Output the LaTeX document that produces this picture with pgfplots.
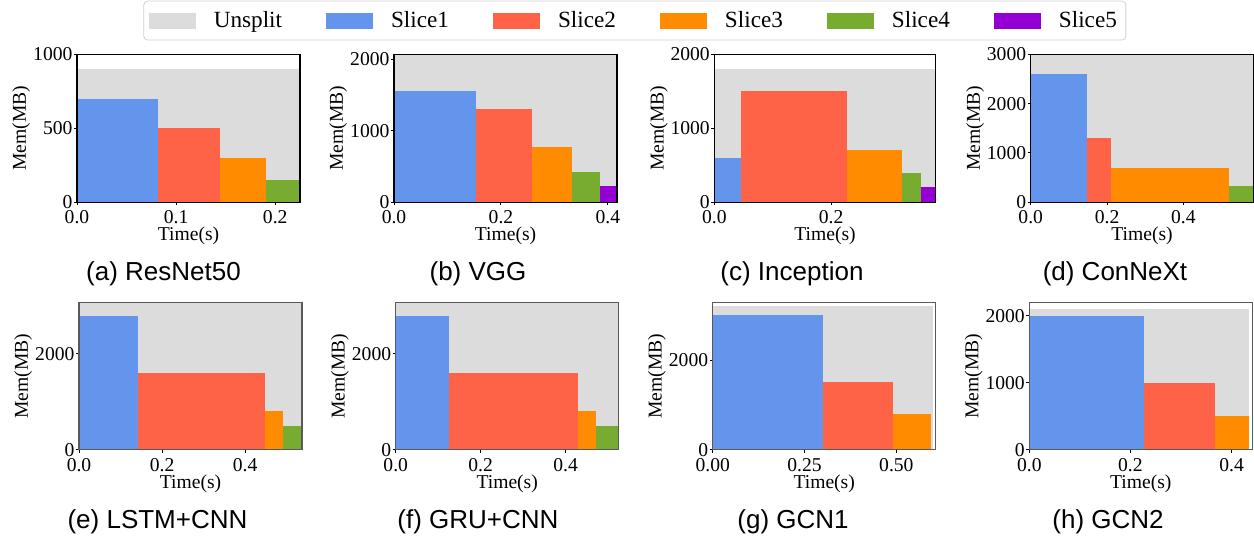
\documentclass[border=0pt]{standalone}
\usepackage{fontspec}
\setmainfont{Liberation Serif}
\newfontfamily\capfont{Liberation Sans}
\usepackage{pgfplots}
\pgfplotsset{compat=1.18}
\definecolor{cgrey}{HTML}{DCDCDC}
\definecolor{cblue}{HTML}{6495ED}
\definecolor{cred}{HTML}{FF6347}
\definecolor{corange}{HTML}{FF8C00}
\definecolor{cgreen}{HTML}{77AC30}
\definecolor{cpurple}{HTML}{9400D3}
\pgfplotsset{
  panel/.style={
    scale only axis, width=111.5bp, height=74bp, anchor=south west,
    xmin=0, ymin=0, axis on top,
    tick align=outside, tick pos=left, major tick length=1.5bp,
    tick style={black, line width=0.5bp},
    ticklabel style={font=\fontsize{9.8bp}{11bp}\selectfont},
    yticklabel style={inner xsep=0.6bp},
    xticklabel style={inner ysep=2.5bp},
    label style={font=\fontsize{9.8bp}{11bp}\selectfont},
    xlabel={Time(s)}, ylabel={Mem(MB)},
    /pgf/number format/assume math mode=true,
    xticklabel style={/pgf/number format/fixed, /pgf/number format/fixed zerofill, /pgf/number format/precision=1},
    yticklabel style={/pgf/number format/fixed, /pgf/number format/1000 sep={}},
    scaled ticks=false,
    ylabel style={at={(axis description cs:-0.25,0.5)}, anchor=center},
    xlabel style={at={(axis description cs:0.5,0)}, anchor=center, yshift=-16.8bp, inner sep=1bp},
    legend image code/.code={\fill[##1, sharp corners] (0bp,-4bp) rectangle (23.5bp,4bp);},
  },
  toprow/.style={panel, axis line style={black, line width=0.6bp}},
  botrow/.style={panel, height=73.7bp, axis line style={black!65, line width=0.7bp}},
}
\begin{document}
\begin{tikzpicture}
\path[use as bounding box] (0,0) rectangle (627bp,268.5bp);
% (a)
\begin{axis}[toprow, at={(38.5bp,167.35bp)}, xmax=0.225, ymax=1000, xtick={0,0.1,0.2}, ytick={0,500,1000}]
\addplot[fill=cgrey, draw=none, mark=none] coordinates {(0,0) (0,900) (0.225,900) (0.225,0)};
\addplot[fill=cblue, draw=none, mark=none] coordinates {(0,0) (0,700) (0.082,700) (0.082,0)};
\addplot[fill=cred, draw=none, mark=none] coordinates {(0.082,0) (0.082,500) (0.144,500) (0.144,0)};
\addplot[fill=corange, draw=none, mark=none] coordinates {(0.144,0) (0.144,300) (0.191,300) (0.191,0)};
\addplot[fill=cgreen, draw=none, mark=none] coordinates {(0.191,0) (0.191,150) (0.225,150) (0.225,0)};
\end{axis}
% (b)
\begin{axis}[toprow, at={(197bp,167.35bp)}, xmax=0.417, ymax=2070, xtick={0,0.2,0.4}, ytick={0,1000,2000},
  legend columns=6,
  legend style={at={(1.080,1.228)}, anchor=center, draw=black!18, rounded corners=2bp,
    font=\fontsize{11.6bp}{13bp}\selectfont,
    /tikz/every even column/.append style={column sep=20bp},
    /tikz/every odd column/.append style={column sep=7bp},
    inner xsep=2.5bp, inner ysep=3bp}]
\addplot[fill=cgrey, draw=none, mark=none] coordinates {(0,0) (0,2070) (0.417,2070) (0.417,0)};
\addlegendentry{Unsplit}
\addplot[fill=cblue, draw=none, mark=none] coordinates {(0,0) (0,1550) (0.154,1550) (0.154,0)};
\addlegendentry{Slice1}
\addplot[fill=cred, draw=none, mark=none] coordinates {(0.154,0) (0.154,1300) (0.258,1300) (0.258,0)};
\addlegendentry{Slice2}
\addplot[fill=corange, draw=none, mark=none] coordinates {(0.258,0) (0.258,780) (0.333,780) (0.333,0)};
\addlegendentry{Slice3}
\addplot[fill=cgreen, draw=none, mark=none] coordinates {(0.333,0) (0.333,430) (0.386,430) (0.386,0)};
\addlegendentry{Slice4}
\addplot[fill=cpurple, draw=none, mark=none] coordinates {(0.386,0) (0.386,230) (0.417,230) (0.417,0)};
\addlegendentry{Slice5}
\end{axis}
% (c)
\begin{axis}[toprow, at={(357.15bp,167.35bp)}, width=110.7bp, xmax=0.379, ymax=2000, xtick={0,0.2}, ytick={0,1000,2000}]
\addplot[fill=cgrey, draw=none, mark=none] coordinates {(0,0) (0,1800) (0.379,1800) (0.379,0)};
\addplot[fill=cblue, draw=none, mark=none] coordinates {(0,0) (0,600) (0.046,600) (0.046,0)};
\addplot[fill=cred, draw=none, mark=none] coordinates {(0.046,0) (0.046,1500) (0.227,1500) (0.227,0)};
\addplot[fill=corange, draw=none, mark=none] coordinates {(0.227,0) (0.227,700) (0.321,700) (0.321,0)};
\addplot[fill=cgreen, draw=none, mark=none] coordinates {(0.321,0) (0.321,400) (0.354,400) (0.354,0)};
\addplot[fill=cpurple, draw=none, mark=none] coordinates {(0.354,0) (0.354,200) (0.378,200) (0.378,0)};
\end{axis}
% (d)
\begin{axis}[toprow, at={(515.35bp,167.35bp)}, width=111.3bp, xmax=0.583, ymax=3000, xtick={0,0.2,0.4}, ytick={0,1000,2000,3000}]
\addplot[fill=cgrey, draw=none, mark=none] coordinates {(0,0) (0,3000) (0.583,3000) (0.583,0)};
\addplot[fill=cblue, draw=none, mark=none] coordinates {(0,0) (0,2600) (0.148,2600) (0.148,0)};
\addplot[fill=cred, draw=none, mark=none] coordinates {(0.148,0) (0.148,1300) (0.211,1300) (0.211,0)};
\addplot[fill=corange, draw=none, mark=none] coordinates {(0.211,0) (0.211,700) (0.519,700) (0.519,0)};
\addplot[fill=cgreen, draw=none, mark=none] coordinates {(0.519,0) (0.519,330) (0.583,330) (0.583,0)};
\end{axis}
% (e)
\begin{axis}[botrow, at={(39.5bp,43.65bp)}, xmax=0.537, ymax=3080, xtick={0,0.2,0.4}, ytick={0,2000}]
\addplot[fill=cgrey, draw=none, mark=none] coordinates {(0,0) (0,3080) (0.537,3080) (0.537,0)};
\addplot[fill=cblue, draw=none, mark=none] coordinates {(0,0) (0,2800) (0.143,2800) (0.143,0)};
\addplot[fill=cred, draw=none, mark=none] coordinates {(0.143,0) (0.143,1600) (0.448,1600) (0.448,0)};
\addplot[fill=corange, draw=none, mark=none] coordinates {(0.448,0) (0.448,800) (0.491,800) (0.491,0)};
\addplot[fill=cgreen, draw=none, mark=none] coordinates {(0.491,0) (0.491,500) (0.537,500) (0.537,0)};
\end{axis}
% (f)
\begin{axis}[botrow, at={(197.85bp,43.65bp)}, xmax=0.525, ymax=3080, xtick={0,0.2,0.4}, ytick={0,2000}]
\addplot[fill=cgrey, draw=none, mark=none] coordinates {(0,0) (0,3080) (0.525,3080) (0.525,0)};
\addplot[fill=cblue, draw=none, mark=none] coordinates {(0,0) (0,2800) (0.126,2800) (0.126,0)};
\addplot[fill=cred, draw=none, mark=none] coordinates {(0.126,0) (0.126,1600) (0.428,1600) (0.428,0)};
\addplot[fill=corange, draw=none, mark=none] coordinates {(0.428,0) (0.428,800) (0.471,800) (0.471,0)};
\addplot[fill=cgreen, draw=none, mark=none] coordinates {(0.471,0) (0.471,500) (0.525,500) (0.525,0)};
\end{axis}
% (g)
\begin{axis}[botrow, at={(356.35bp,43.65bp)}, xmax=0.607, ymax=3290, xtick={0,0.25,0.5}, ytick={0,2000},
  xticklabel style={/pgf/number format/precision=2}]
\addplot[fill=cgrey, draw=none, mark=none] coordinates {(0,0) (0,3200) (0.600,3200) (0.600,0)};
\addplot[fill=cblue, draw=none, mark=none] coordinates {(0,0) (0,3000) (0.300,3000) (0.300,0)};
\addplot[fill=cred, draw=none, mark=none] coordinates {(0.300,0) (0.300,1500) (0.491,1500) (0.491,0)};
\addplot[fill=corange, draw=none, mark=none] coordinates {(0.491,0) (0.491,800) (0.593,800) (0.593,0)};
\end{axis}
% (h)
\begin{axis}[botrow, at={(514.65bp,43.65bp)}, xmax=0.441, ymax=2200, xtick={0,0.2,0.4}, ytick={0,1000,2000}]
\addplot[fill=cgrey, draw=none, mark=none] coordinates {(0,0) (0,2100) (0.434,2100) (0.434,0)};
\addplot[fill=cblue, draw=none, mark=none] coordinates {(0,0) (0,2000) (0.227,2000) (0.227,0)};
\addplot[fill=cred, draw=none, mark=none] coordinates {(0.227,0) (0.227,1000) (0.368,1000) (0.368,0)};
\addplot[fill=corange, draw=none, mark=none] coordinates {(0.368,0) (0.368,500) (0.434,500) (0.434,0)};
\end{axis}
% captions
\begin{scope}[every node/.style={font=\capfont\fontsize{13bp}{15bp}\selectfont, inner sep=0pt}]
\node at (81.75bp,131.5bp) {(a) ResNet50};
\node at (239bp,131.5bp) {(b) VGG};
\node at (396bp,131.5bp) {(c) Inception};
\node at (557.5bp,131.5bp) {(d) ConNeXt};
\node at (78.75bp,7.5bp) {(e) LSTM+CNN};
\node at (239bp,7.5bp) {(f) GRU+CNN};
\node at (396.5bp,7.5bp) {(g) GCN1};
\node at (554bp,7.5bp) {(h) GCN2};
\end{scope}
\end{tikzpicture}
\end{document}
